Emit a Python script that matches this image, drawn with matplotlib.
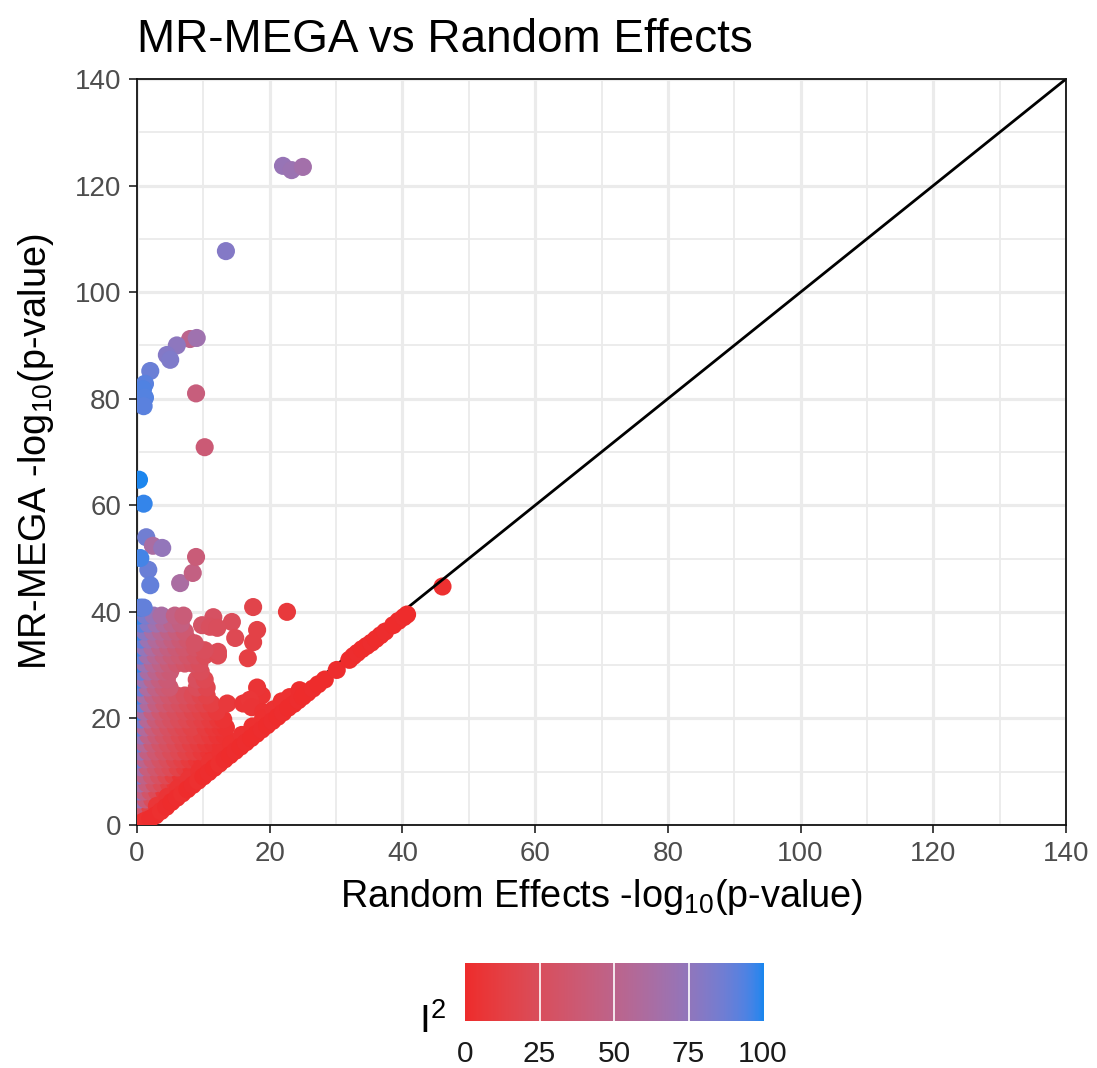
import numpy as np
import matplotlib
matplotlib.use("Agg")
import matplotlib.pyplot as plt
from matplotlib.colors import ListedColormap, Normalize

plt.rcParams['font.family'] = ['Liberation Sans', 'DejaVu Sans']
plt.rcParams['mathtext.fontset'] = 'custom'
plt.rcParams['mathtext.rm'] = 'Liberation Sans'
plt.rcParams['mathtext.it'] = 'Liberation Sans:italic'
plt.rcParams['mathtext.bf'] = 'Liberation Sans:bold'

# ---------------- data ----------------
# dense cloud, row by row: (MR-MEGA value, RE values, I2 values)
cloud_rows = [
    (1.8,  [0.3, 1.1], [45, 20]),
    (3.3,  [0.2, 1.0, 2.0], [65, 35, 15]),
    (4.8,  [0.4, 1.3, 2.3, 3.3], [70, 40, 25, 10]),
    (6.3,  [0.2, 1.0, 2.0, 3.0, 4.1], [78, 45, 32, 22, 8]),
    (7.8,  [0.5, 1.5, 2.6, 3.7, 4.8, 5.8], [62, 42, 30, 22, 14, 6]),
    (9.3,  [0.2, 1.1, 2.2, 3.3, 4.4, 5.5, 6.6], [82, 48, 36, 28, 20, 12, 5]),
    (10.8, [0.6, 1.6, 2.8, 3.9, 5.0, 6.1, 7.2, 8.2], [66, 42, 34, 27, 22, 15, 10, 4]),
    (12.3, [0.2, 1.2, 2.3, 3.5, 4.6, 5.7, 6.8, 7.9, 9.0, 9.8], [85, 50, 38, 30, 25, 18, 14, 9, 6, 3]),
    (13.8, [0.5, 1.6, 2.8, 4.0, 5.1, 6.3, 7.4, 8.6, 9.7, 10.8, 11.6], [70, 45, 36, 30, 24, 20, 15, 12, 8, 5, 2]),
    (15.3, [0.2, 1.1, 2.3, 3.5, 4.6, 5.8, 7.0, 8.1, 9.3, 10.4, 11.5, 12.6, 13.3], [88, 55, 40, 32, 27, 22, 18, 13, 10, 7, 5, 3, 2]),
    (16.8, [0.6, 1.7, 2.9, 4.0, 5.2, 6.4, 7.5, 8.7, 9.8, 11.0, 12.1, 13.2], [72, 48, 38, 31, 26, 20, 17, 14, 11, 8, 5, 3]),
    (18.3, [0.2, 1.2, 2.4, 3.5, 4.7, 5.9, 7.0, 8.2, 10.3, 11.5, 12.6, 13.4], [90, 58, 42, 34, 28, 23, 19, 15, 10, 7, 5, 3]),
    (19.8, [0.5, 1.6, 2.8, 4.0, 5.1, 6.3, 7.5, 8.7, 9.8, 11.0, 12.2, 13.0], [84, 55, 40, 33, 28, 24, 20, 16, 13, 10, 7, 4]),
    (21.3, [0.2, 1.1, 2.3, 3.5, 4.6, 5.8, 7.2, 8.4, 9.6, 10.8, 12.0], [96, 62, 45, 36, 30, 26, 22, 18, 15, 11, 8]),
    (22.8, [0.6, 1.7, 2.9, 4.1, 5.2, 6.4, 7.6, 8.8, 10.0, 11.2, 13.6, 16.0], [86, 58, 44, 36, 31, 27, 23, 19, 16, 12, 8, 5]),
    (24.3, [0.2, 1.2, 2.4, 3.6, 4.8, 6.0, 7.2, 8.4, 9.6, 10.5, 18.8], [95, 64, 48, 40, 34, 30, 26, 22, 18, 15, 4]),
    (25.8, [0.5, 1.6, 2.8, 4.0, 4.9, 9.0, 10.5, 18.1], [88, 60, 47, 40, 36, 24, 18, 5]),
    (27.3, [0.2, 1.1, 2.3, 3.4, 4.5, 9.0, 10.2], [96, 68, 52, 44, 38, 26, 20]),
    (28.8, [0.6, 1.7, 2.9, 4.1, 5.0, 9.6], [88, 62, 50, 42, 38, 24]),
    (30.3, [0.2, 1.2, 2.4, 3.6, 4.8, 6.0, 7.2, 8.4, 9.4], [97, 70, 55, 47, 40, 35, 31, 28, 25]),
    (31.8, [0.5, 1.6, 2.8, 4.0, 5.2, 6.4, 7.6, 8.8, 10.2, 12.2], [90, 66, 54, 46, 40, 36, 32, 28, 24, 20]),
    (33.3, [0.2, 1.2, 2.3, 3.5, 4.7, 5.9, 7.1, 8.7], [96, 74, 60, 50, 44, 38, 34, 30]),
    (34.8, [0.6, 1.7, 2.9, 4.1, 5.3, 6.5, 7.6], [90, 70, 58, 50, 44, 38, 34]),
    (36.3, [0.2, 1.2, 2.4, 3.6, 4.8, 6.0, 7.2], [97, 78, 64, 55, 48, 42, 36]),
    (37.8, [0.6, 1.7, 2.9, 4.1, 5.3, 6.6], [92, 80, 68, 58, 50, 44]),
    (39.3, [0.2, 1.3, 2.5, 3.7, 5.7, 7.0], [98, 84, 72, 62, 46, 40]),
    (40.8, [0.5, 1.0], [95, 90]),
]

# red cluster right of the cloud
cluster_re = [17.5, 22.6, 11.5, 9.8, 14.3, 18.1, 14.8, 17.5, 16.7, 12.2, 10.2, 8.7, 11.0, 12.1, 17.0, 17.3, 19.0, 22.0]
cluster_mega = [40.9, 40.0, 39.0, 37.5, 38.1, 36.6, 35.1, 34.3, 31.3, 32.5, 32.8, 34.1, 37.2, 37.0, 23.5, 22.1, 21.2, 22.9]
cluster_i2 = [16, 8, 28, 30, 24, 14, 20, 14, 12, 22, 25, 30, 26, 25, 6, 5, 3, 2]

# points along the diagonal
diag_re = [0.5, 1.2, 2.0, 2.8, 3.6, 4.4, 5.2, 6.0, 6.8, 7.6, 8.4, 9.2, 10.0, 10.8, 11.6, 12.4,
           13.2, 14.0, 14.8, 15.6, 16.4, 17.2, 18.0, 18.8, 19.6, 20.4, 21.2, 22.0, 22.8, 23.6,
           24.3, 25.0, 25.7, 26.5, 27.3, 28.3, 30.1, 32.0, 32.6, 33.2, 33.9, 34.6, 35.3, 36.0,
           36.7, 37.4, 38.6, 39.4, 40.2, 40.7]
diag_mega = [0.4, 0.8, 1.2, 1.8, 2.6, 3.4, 4.3, 5.1, 5.9, 6.7, 7.5, 8.3, 9.1, 9.9, 10.7, 11.5,
             12.3, 13.1, 13.9, 14.7, 15.5, 16.3, 17.1, 17.9, 18.7, 19.5, 20.3, 21.1, 22.0, 22.7,
             23.4, 24.1, 24.8, 25.6, 26.4, 27.3, 29.1, 31.0, 31.7, 32.3, 33.0, 33.6, 34.2, 34.9,
             35.6, 36.3, 37.5, 38.3, 39.0, 39.5]
diag_i2 = [3, 2, 1, 1, 2, 1, 0, 1, 2, 0, 1, 2, 0, 1, 0, 2, 1, 0, 1, 0, 1, 0, 0, 1, 0, 1, 0, 1,
           0, 0, 1, 0, 0, 1, 0, 0, 1, 0, 0, 1, 0, 0, 1, 0, 0, 1, 0, 0, 1, 0]

band_re = [3.0, 4.6, 6.2, 7.8, 9.4, 11.0, 12.6, 14.2, 15.8, 17.4, 19.0, 20.6, 21.8, 23.0, 24.5]
band_mega = [3.6, 5.3, 6.9, 8.6, 10.1, 11.8, 13.5, 15.2, 16.9, 18.5, 20.0, 21.7, 23.2, 24.0, 25.3]
band_i2 = [6, 5, 4, 5, 3, 4, 3, 2, 3, 2, 2, 3, 2, 2, 1]

# isolated high points
out_re = [22.0, 23.3, 25.0, 13.4, 8.0, 9.0, 6.0, 4.5, 5.0, 2.0, 1.2, 0.9, 1.2, 1.0, 8.9, 10.2,
          0.3, 1.0, 1.4, 2.4, 3.8, 1.7, 2.0, 0.5, 6.5, 8.4, 8.9]
out_mega = [123.7, 122.9, 123.5, 107.7, 91.2, 91.4, 90.0, 88.2, 87.3, 85.2, 82.8, 81.8, 80.2, 78.6,
            81.0, 70.9, 64.8, 60.3, 54.0, 52.4, 52.0, 47.9, 45.0, 50.1, 45.4, 47.3, 50.3]
out_i2 = [72, 70, 66, 80, 50, 68, 76, 80, 82, 88, 92, 94, 93, 92, 42, 38, 100, 98, 86, 62, 74,
          88, 90, 96, 62, 45, 40]

# point drawn below the identity line
last_re = [46.0]
last_mega = [44.9]
last_i2 = [2]

axis_ticks = [0, 20, 40, 60, 80, 100, 120, 140]
cbar_ticks = [0, 25, 50, 75, 100]

# ---------------- colour scale (Lab interpolation like ggplot) ----------------
_M = np.array([[0.4124, 0.3576, 0.1805], [0.2126, 0.7152, 0.0722], [0.0193, 0.1192, 0.9505]])
_WHITE = np.array([0.95047, 1.0, 1.08883])

def _to_lab(rgb):
    c = np.asarray(rgb, float) / 255.0
    lin = np.where(c <= 0.04045, c / 12.92, ((c + 0.055) / 1.055) ** 2.4)
    xyz = _M @ lin / _WHITE
    d = 6 / 29
    f = np.where(xyz > d ** 3, np.cbrt(xyz), xyz / (3 * d * d) + 4 / 29)
    return np.array([116 * f[1] - 16, 500 * (f[0] - f[1]), 200 * (f[1] - f[2])])

def _from_lab(lab):
    L, a, b = lab
    fy = (L + 16) / 116
    fx = fy + a / 500
    fz = fy - b / 200
    d = 6 / 29
    def finv(t):
        return np.where(t > d, t ** 3, 3 * d * d * (t - 4 / 29))
    xyz = np.array([finv(fx), finv(fy), finv(fz)]) * _WHITE[:, None]
    lin = np.clip(np.linalg.inv(_M) @ xyz, 0, 1)
    c = np.where(lin <= 0.0031308, 12.92 * lin, 1.055 * lin ** (1 / 2.4) - 0.055)
    return np.clip(c, 0, 1).T

low = _to_lab((238, 44, 44))
high = _to_lab((28, 134, 238))
tt = np.linspace(0, 1, 256)
labs = low[:, None] * (1 - tt) + high[:, None] * tt
cmap = ListedColormap(_from_lab(labs))
norm = Normalize(0, 100)

# ---------------- figure ----------------
W, H = 1097, 1068
fig = plt.figure(figsize=(W / 100, H / 100), dpi=100)
ax = fig.add_axes([137 / W, 1 - 825 / H, (1066 - 137) / W, (825 - 79) / H])

ax.set_xlim(0, 140)
ax.set_ylim(0, 140)
ax.set_xticks(axis_ticks)
ax.set_yticks(axis_ticks)
ax.set_xticks(np.arange(10, 140, 20), minor=True)
ax.set_yticks(np.arange(10, 140, 20), minor=True)
ax.grid(which='major', color='#EBEBEB', lw=2.3)
ax.grid(which='minor', color='#EBEBEB', lw=1.3)
ax.set_axisbelow(True)
ax.tick_params(which='minor', length=0)
ax.tick_params(which='major', length=5.5, width=1.3, color='#333333', pad=6,
               labelsize=20, labelcolor='#4D4D4D')
for s in ax.spines.values():
    s.set_color('#111111')
    s.set_linewidth(1.3)

ax.plot([0, 140], [0, 140], color='black', lw=2.0, zorder=2)

cx, cy, ci = [], [], []
for yv, xs, cs in cloud_rows:
    cx += xs
    cy += [yv] * len(xs)
    ci += cs

S = 170
ax.scatter(last_re, last_mega, c=last_i2, cmap=cmap, norm=norm, s=S, linewidths=0, zorder=1.5)
ax.scatter(cx, cy, c=ci, cmap=cmap, norm=norm, s=S, linewidths=0, zorder=3)
ax.scatter(cluster_re, cluster_mega, c=cluster_i2, cmap=cmap, norm=norm, s=S, linewidths=0, zorder=3)
ax.scatter(band_re, band_mega, c=band_i2, cmap=cmap, norm=norm, s=S, linewidths=0, zorder=3)
ax.scatter(diag_re, diag_mega, c=diag_i2, cmap=cmap, norm=norm, s=S, linewidths=0, zorder=3)
ax.scatter(out_re, out_mega, c=out_i2, cmap=cmap, norm=norm, s=S, linewidths=0, zorder=3)

# titles
fig.text(137 / W, 1 - 52 / H, 'MR-MEGA vs Random Effects', fontsize=33, ha='left', va='baseline')
fig.text(601.5 / W, 1 - 907 / H, r'Random Effects -log$_{10}$(p-value)', fontsize=27.3,
         ha='center', va='baseline')
fig.text(36 / W, 1 - 452 / H, r'MR-MEGA -log$_{10}$(p-value)', fontsize=27.3,
         ha='center', va='center', rotation=90)

# colour bar legend
cax = fig.add_axes([465 / W, 1 - 1021 / H, (763 - 465) / W, (1021 - 963) / H])
grad = np.linspace(0, 100, 300)[None, :]
cax.imshow(grad, aspect='auto', cmap=cmap, norm=norm, extent=[0, 100, 0, 1])
cax.set_xlim(0, 100)
cax.set_ylim(0, 1)
for t in cbar_ticks[1:-1]:
    cax.plot([t, t], [0, 1], color='white', lw=1.2)
cax.axis('off')
for t in cbar_ticks:
    px = 465 + (763 - 465) * t / 100
    fig.text(px / W, 1 - 1040 / H, str(t), fontsize=21.5, ha='center', va='top', color='#1A1A1A')
fig.text(419 / W, 1 - 1033 / H, r'$\mathregular{I^2}$', fontsize=28, ha='left', va='baseline')

fig.savefig('out.png', dpi=100)
